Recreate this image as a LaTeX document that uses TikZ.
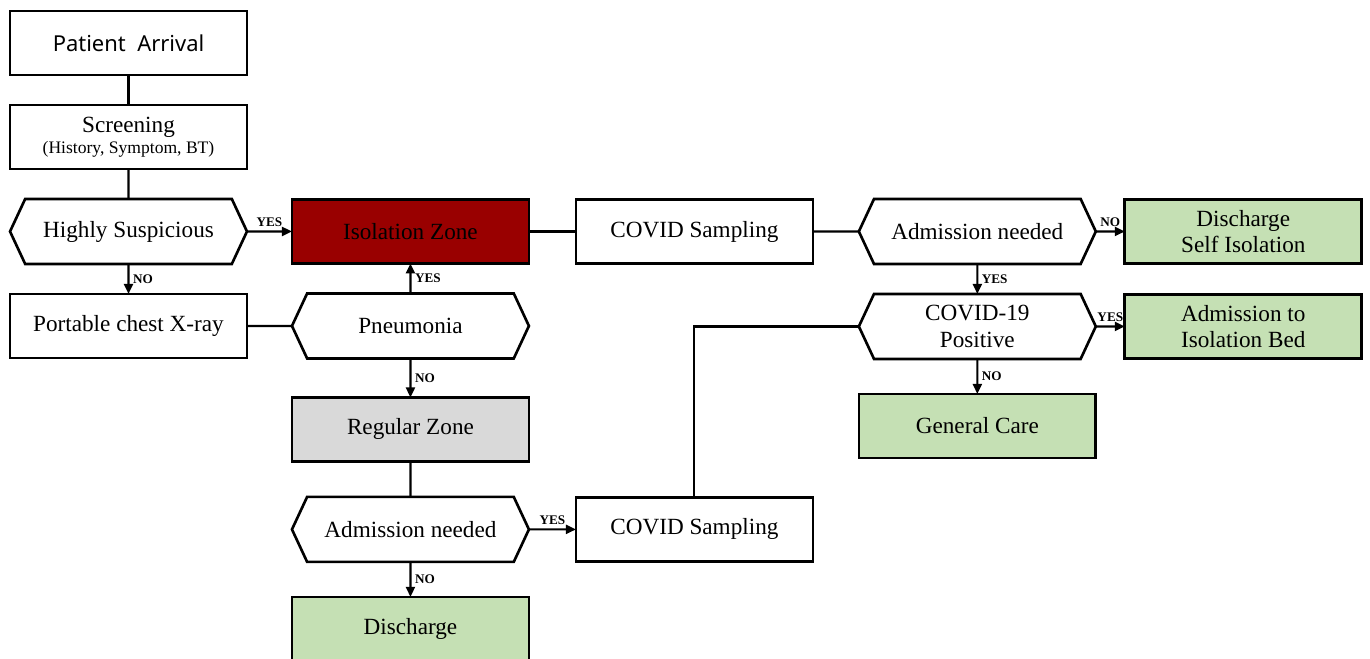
\documentclass[tikz,border=0pt]{standalone}
\usepackage{fontspec}
\setmainfont{Liberation Serif}
\newfontfamily\arrivalfont{Noto Sans}
\usetikzlibrary{arrows.meta, positioning, shapes.symbols}
\definecolor{isored}{HTML}{990000}
\definecolor{carefill}{HTML}{C5E0B4}
\definecolor{zonegray}{HTML}{D9D9D9}

\begin{document}
\begin{tikzpicture}[
  x=0.02cm, y=-0.02cm,
  node distance=6mm and 9mm,
  box/.style={draw, line width=1.5pt, outer sep=0pt, align=center, font=\fontsize{13.2}{15}\selectfont,
              minimum width=47.4mm, minimum height=12.8mm, inner sep=1pt},
  hexbox/.style={box, signal, signal to=east and west, signal pointer angle=130,
                 minimum height=13mm},
  care/.style={box, fill=carefill},
  line/.style={line width=1.2pt},
  arr/.style={line, -{Triangle[length=2mm, width=1.8mm]}},
  yn/.style={font=\fontsize{7.5}{8}\selectfont\bfseries, inner sep=2pt}]
\useasboundingbox (0,0) rectangle (1370,659);
% first column
\node[box, font=\arrivalfont\fontsize{12.5}{15}\selectfont] (arrival) at (128.5,43) {Patient\ \ Arrival};
\node[box, below=of arrival] (screen) {Screening\\[-3pt]{\fontsize{10}{12}\selectfont (History, Symptom, BT)}};
\node[hexbox, below=of screen] (suspect) {Highly Suspicious};
\node[box, below=of suspect] (xray) {Portable chest X-ray};
% second column
\node[box, fill=isored, right=of suspect] (isozone) {Isolation Zone};
\node[hexbox, below=of isozone] (pneu) {Pneumonia};
\node[box, fill=zonegray, below=7.8mm of pneu] (regzone) {Regular Zone};
\node[hexbox, below=7.1mm of regzone] (admit2) {Admission needed};
\node[care, below=7mm of admit2] (discharge) {Discharge};
% sampling
\node[box, right=9.4mm of isozone] (sample1) {COVID Sampling};
\node[box, right=9.4mm of admit2] (sample2) {COVID Sampling};
% right side
\node[hexbox, right=9.2mm of sample1] (admit1) {Admission needed};
\node[care, right=5.8mm of admit1] (selfiso) {Discharge\\Self Isolation};
\node[hexbox, below=of admit1] (covpos) {COVID-19\\Positive};
\node[care, right=5.8mm of covpos] (isobed) {Admission to\\Isolation Bed};
\node[care, below=7mm of covpos] (general) {General Care};

\draw[line] (arrival) -- (screen);
\draw[line] (screen) -- (suspect);
\draw[arr] (suspect) -- node[yn, above] {YES} (isozone);
\draw[arr] (suspect) -- node[yn, right] {NO} (xray);
\draw[line] (xray) -- (pneu);
\draw[arr] (pneu) -- node[yn, right] {YES} (isozone);
\draw[arr] (pneu) -- node[yn, right] {NO} (regzone);
\draw[line] (regzone) -- (admit2);
\draw[arr] (admit2) -- node[yn, above] {YES} (sample2);
\draw[arr] (admit2) -- node[yn, right] {NO} (discharge);
\draw[line] (isozone) -- (sample1);
\draw[line] (sample1) -- (admit1);
\draw[arr] (admit1) -- node[yn, above] {NO} (selfiso);
\draw[arr] (admit1) -- node[yn, right] {YES} (covpos);
\draw[line] (sample2) |- (covpos);
\draw[arr] (covpos) -- node[yn, above] {YES} (isobed);
\draw[arr] (covpos) -- node[yn, right] {NO} (general);
\end{tikzpicture}
\end{document}
